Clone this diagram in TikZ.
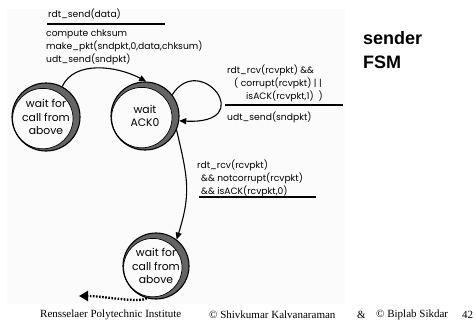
\documentclass[tikz,border=0pt]{standalone}
\usepackage{fontspec}
\setmainfont{Poppins}
\newfontfamily\footfont{Liberation Serif}
\newfontfamily\headfont{Liberation Sans}
\usetikzlibrary{arrows.meta,calc}

\definecolor{panelbg}{RGB}{251,251,251}
\definecolor{rimgray}{RGB}{100,100,100}

% ring with a grey crescent on its upper right inside
\newcommand\rimshade[3]{%
  \fill[rimgray] (#1,#2) circle[radius=#3pt];
  \fill[panelbg] (#1-3.2,#2+1.6) circle[radius=#3pt-3.8pt];
  \draw[line width=0.7pt] (#1-3.2,#2+1.6) circle[radius=#3pt-3.8pt];
}

\begin{document}
\begin{tikzpicture}[x=1pt,y=-1pt,
  lbl/.style={font=\fontsize{9.2}{13}\selectfont, align=left, inner sep=0pt, anchor=north west},
  state/.style={circle, draw, line width=1.1pt, minimum size=68pt, inner sep=0pt,
    align=center, font=\fontsize{10.8}{13.5}\selectfont},
  arr/.style={line width=1.1pt, -{Triangle[length=7pt,width=6pt]}},
  dotarr/.style={line width=2.3pt, dash pattern=on 1.6pt off 1.5pt,
    -{Triangle[length=9pt,width=10pt]}},
  rule/.style={line width=1.4pt},
  foot/.style={font=\footfont\fontsize{11}{13}\selectfont, inner sep=0pt, anchor=west}
]
\useasboundingbox (0,0) rectangle (476,322);
\fill[white] (0,0) rectangle (476,322);
\fill[panelbg] (7,9) rectangle (345,304);

% states
\rimshade{46}{117}{34}
\node[state] (s1) at (46,117) {wait for\\call from\\above};
\rimshade{145}{116}{34}
\node[state] (s2) at (145,116) {wait\\ACK0};
\rimshade{156}{266}{33}
\node[state, minimum size=66pt] (s3) at (156,266) {wait for\\call from\\above};

% transition labels
\node[lbl] (ev1) at (48,9) {rdt\_send(data)};
\coordinate (r1a) at (47,24); \coordinate (r1b) at (165,24);
\draw[rule] (r1a) -- (r1b);
\node[lbl] (act1) at (46,29.5) {compute chksum\\make\_pkt(sndpkt,0,data,chksum)\\udt\_send(sndpkt)};

\node[lbl] (ev2) at (227,64.5) {rdt\_rcv(rcvpkt) \&\&\\\hspace*{7pt}( corrupt(rcvpkt) | |\\\hspace*{19pt}isACK(rcvpkt,1) \ )};
\coordinate (r2a) at (225,105); \coordinate (r2b) at (343,105);
\draw[rule] (r2a) -- (r2b);
\node[lbl] (act2) at (227,111.5) {udt\_send(sndpkt)};

\node[lbl] (ev3) at (197,159.5) {rdt\_rcv(rcvpkt)\\\hspace*{4pt}\&\& notcorrupt(rcvpkt)\\\hspace*{4pt}\&\& isACK(rcvpkt,0)};
\coordinate (r3a) at (199,197); \coordinate (r3b) at (316,197);
\draw[rule] (r3a) -- (r3b);

% transitions
\draw[arr] (s1.62) .. controls +(12,-26) and +(-30,-16) .. (s2.88);
\draw[arr] (s2.38) .. controls +(28,-44) and +(80,4) .. (s2.-8);
\draw[arr] (s2.-24) .. controls +(12,50) and +(14,-45) .. (s3.52);
\coordinate (exitend) at (79,296);
\draw[dotarr] (s3.-106) .. controls +(-8,5) and +(25,0) .. (exitend);

% title
\node[font=\headfont\bfseries\fontsize{18}{24}\selectfont, align=left, anchor=north west, inner sep=0pt] (title) at (363,31.5) {sender\\FSM};

% footer
\node[foot] (f1) at (40,315) {Rensselaer Polytechnic Institute};
\node[foot] (f2) at (209,315) {\textcopyright{} Shivkumar Kalvanaraman};
\node[foot] (f3) at (357,315) {\&};
\node[foot] (f4) at (376,315) {\textcopyright{} Biplab Sikdar};
\node[foot] (f5) at (462,315) {42};
\end{tikzpicture}
\end{document}
